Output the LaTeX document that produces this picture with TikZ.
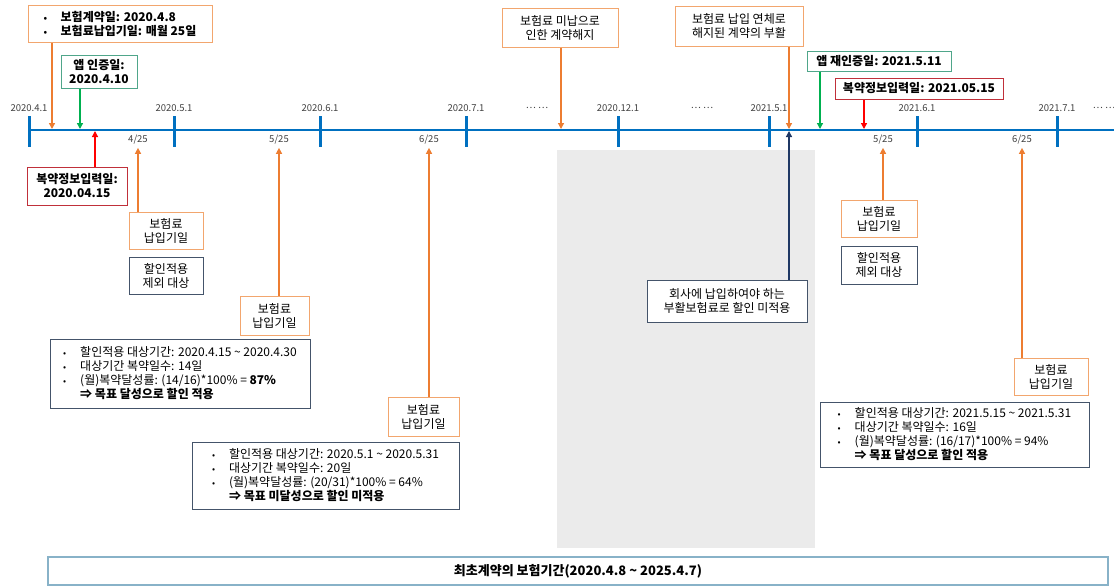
\documentclass[tikz,border=0pt]{standalone}
\usepackage{fontspec}
\setmainfont{Noto Sans CJK KR}
\usetikzlibrary{positioning,arrows.meta}

\definecolor{lineblue}{HTML}{0070C0}
\definecolor{payorange}{HTML}{ED7D31}
\definecolor{boxorange}{HTML}{F2A66E}
\definecolor{appgreen}{HTML}{00B050}
\definecolor{boxgreen}{HTML}{4FA68A}
\definecolor{inred}{HTML}{FF0000}
\definecolor{boxred}{HTML}{C0303A}
\definecolor{boxnavy}{HTML}{44546A}
\definecolor{arrnavy}{HTML}{1F3864}
\definecolor{periodblue}{HTML}{88B2C8}
\definecolor{greyzone}{HTML}{EBEBEB}

\newcommand{\itm}{\makebox[17pt][l]{\fontsize{9}{10}\selectfont •}}

\tikzset{%
  % Specifications for style of nodes:
      orbox/.style = {rectangle, draw=boxorange, line width=1pt, fill=white, align=center},
     grbox/.style = {rectangle, draw=boxgreen, line width=1pt, fill=white, align=center, font=\fontsize{12}{14}\selectfont\bfseries},
     rdbox/.style = {rectangle, draw=boxred, line width=1pt, fill=white, align=center, font=\fontsize{12}{14}\selectfont\bfseries},
    navbox/.style = {rectangle, draw=boxnavy, line width=1pt, fill=white, align=center},
    perbox/.style = {rectangle, draw=periodblue, line width=1.2pt, fill=white, font=\fontsize{13}{15}\selectfont\bfseries},
   datelbl/.style = {inner sep=1pt, text=black!75, font=\fontsize{9.5}{11}\selectfont},
    duelbl/.style = {inner sep=1pt, text=black!75, font=\fontsize{9.5}{11}\selectfont},
  % Specifications for style of lines:
  timeline/.style = {draw=lineblue, line width=2pt},
     tick/.style  = {draw=lineblue, line width=3pt},
  orarrow/.style  = {draw=payorange, line width=1.3pt, -{Triangle[length=6pt,width=6pt]}},
  grarrow/.style  = {draw=appgreen, line width=1.3pt, -{Triangle[length=6pt,width=6pt]}},
  rdarrow/.style  = {draw=inred, line width=1.3pt, -{Triangle[length=6pt,width=6pt]}},
  nvarrow/.style  = {draw=arrnavy, line width=1.3pt, -{Triangle[length=6pt,width=6pt]}},
}

\begin{document}
\begin{tikzpicture}[x=1pt, y=-1pt, node distance=7pt, every node/.style={inner sep=2pt, font=\fontsize{12}{14}\selectfont}]
    \useasboundingbox (0,0) rectangle (1114,587);

    % Background and time line
    \fill[greyzone] (557,150) rectangle (815,548);
    \draw[timeline] (29,130) -- (1114,130);
    \foreach \x/\d [count=\i] in {29/2020.4.1, 174/2020.5.1, 320/2020.6.1, 466/2020.7.1, 618/2020.12.1, 769/2021.5.1, 917/2021.6.1, 1057/2021.7.1} {
        \draw[tick] (\x,116) -- (\x,147);
        \node (month\i) [datelbl] at (\x,108) {\d};
    }
    \node (gap1)  [datelbl] at (537,108)  {… …};
    \node (gap2)  [datelbl] at (702,108)  {… …};
    \node (gap3)  [datelbl] at (1104,108) {… …};

    \node (due1)  [duelbl] at (138,140)  {4/25};
    \node (due2)  [duelbl] at (279,140)  {5/25};
    \node (due3)  [duelbl] at (429,140)  {6/25};
    \node (due4)  [duelbl] at (883,140)  {5/25};
    \node (due5)  [duelbl] at (1022,140) {6/25};

    % Draw nodes above the line
    \node (contract) [orbox, minimum width=184pt, minimum height=37pt, align=left, font=\fontsize{12}{14}\selectfont\bfseries] at (120,23.5)
        {\itm 보험계약일: 2020.4.8\\ \itm 보험료납입기일: 매월 25일};
    \node (appcert)  [grbox, minimum width=76pt, minimum height=33pt]  at (99,71.5)   {앱 인증일:\\2020.4.10};
    \node (cancel)   [orbox, minimum width=116pt, minimum height=39pt] at (560,27.5)  {보험료 미납으로\\인한 계약해지};
    \node (revive)   [orbox, minimum width=128pt, minimum height=40pt] at (739,26)    {보험료 납입 연체로\\해지된 계약의 부활};
    \node (reapp)    [grbox, minimum width=144pt, minimum height=20pt] at (879,61)    {앱 재인증일: 2021.5.11};
    \node (drug2)    [rdbox, minimum width=168pt, minimum height=21pt] at (919,88.5)  {복약정보입력일: 2021.05.15};

    % Draw nodes below the line
    \node (drug1)    [rdbox, minimum width=100pt, minimum height=38pt] at (77,186)    {복약정보입력일:\\2020.04.15};
    \node (pay1)     [orbox, minimum width=74pt, minimum height=37pt]  at (166,230.5) {보험료\\납입기일};
    \node (excl1)    [navbox, minimum width=74pt, minimum height=37pt, below=7pt of pay1] {할인적용\\제외 대상};
    \node (pay2)     [orbox, minimum width=69pt, minimum height=39pt]  at (274.5,315.5) {보험료\\납입기일};
    \node (sum1)     [navbox, minimum width=260pt, minimum height=69pt, align=left] at (180,373.5)
        {\itm 할인적용 대상기간: 2020.4.15 \textasciitilde{} 2020.4.30\\
         \itm 대상기간 복약일수: 14일\\
         \itm (월)복약달성률: (14/16)*100\% = \textbf{87\%}\\
         \hspace*{17pt}\textbf{⇒ 목표 달성으로 할인 적용}};
    \node (pay3)     [orbox, minimum width=71pt, minimum height=39pt]  at (423.5,416.5) {보험료\\납입기일};
    \node (sum2)     [navbox, minimum width=267pt, minimum height=67pt, align=left] at (325.5,475.5)
        {\itm 할인적용 대상기간: 2020.5.1 \textasciitilde{} 2020.5.31\\
         \itm 대상기간 복약일수: 20일\\
         \itm (월)복약달성률: (20/31)*100\% = 64\%\\
         \hspace*{17pt}\textbf{⇒ 목표 미달성으로 할인 미적용}};
    \node (revpay)   [navbox, minimum width=160pt, minimum height=42pt] at (727,301)  {회사에 납입하여야 하는\\부활보험료로 할인 미적용};
    \node (pay4)     [orbox, minimum width=76pt, minimum height=37pt]  at (879,218.5) {보험료\\납입기일};
    \node (excl2)    [navbox, minimum width=76pt, minimum height=38pt, below=8pt of pay4] {할인적용\\제외 대상};
    \node (pay5)     [orbox, minimum width=74pt, minimum height=37pt]  at (1051,376.5) {보험료\\납입기일};
    \node (sum3)     [navbox, minimum width=269pt, minimum height=65pt, align=left] at (954.5,434.5)
        {\itm 할인적용 대상기간: 2021.5.15 \textasciitilde{} 2021.5.31\\
         \itm 대상기간 복약일수: 16일\\
         \itm (월)복약달성률: (16/17)*100\% = 94\%\\
         \hspace*{17pt}\textbf{⇒ 목표 달성으로 할인 적용}};
    \node (period)   [perbox, minimum width=1060pt, minimum height=28pt] at (578,571) {최초계약의 보험기간(2020.4.8 \textasciitilde{} 2025.4.7)};

    % Points on the line
    \coordinate (onContract) at (52,129);
    \coordinate (onApp)      at (80,129);
    \coordinate (onDrug)     at (95,131);
    \coordinate (onCancel)   at (561,129);
    \coordinate (onRevive)   at (789,129);
    \coordinate (onRevpay)   at (789,131);
    \coordinate (onReapp)    at (820,129);
    \coordinate (onDrug2)    at (864,129);

    % Draw arrows
    \draw[orarrow] (contract.south -| onContract) -- (onContract);
    \draw[grarrow]  (appcert.south -| onApp)      -- (onApp);
    \draw[rdarrow]    (drug1.north -| onDrug)     -- (onDrug);
    \draw[orarrow]   (cancel.south -| onCancel)   -- (onCancel);
    \draw[orarrow]   (revive.south -| onRevive)   -- (onRevive);
    \draw[nvarrow]   (revpay.north -| onRevpay)   -- (onRevpay);
    \draw[grarrow]    (reapp.south -| onReapp)    -- (onReapp);
    \draw[rdarrow]    (drug2.south -| onDrug2)    -- (onDrug2);

    \draw[orarrow, shorten >=2pt] (pay1.north -| due1) -- (due1.south);
    \draw[orarrow, shorten >=2pt] (pay2.north -| due2) -- (due2.south);
    \draw[orarrow, shorten >=2pt] (pay3.north -| due3) -- (due3.south);
    \draw[orarrow, shorten >=2pt] (pay4.north -| due4) -- (due4.south);
    \draw[orarrow, shorten >=2pt] (pay5.north -| due5) -- (due5.south);

\end{tikzpicture}
\end{document}
